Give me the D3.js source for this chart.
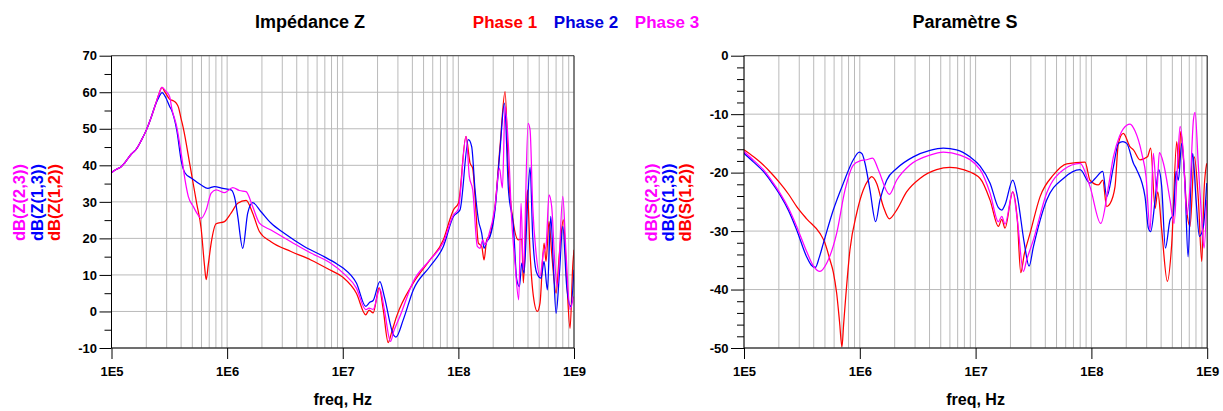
<!DOCTYPE html>
<html><head><meta charset="utf-8">
<script src="https://cdn.jsdelivr.net/npm/d3@7"></script>
<style>
body{margin:0;background:#fff}
text{font-family:"Liberation Sans",Arial,Helvetica,sans-serif;font-weight:bold}
</style>
</head><body>
<svg id="c" width="1223" height="411"></svg>
<script>
// ---------- DATA (frequency as log10(Hz), value in dB) ----------
const xTickValues = [1e5, 1e6, 1e7, 1e8, 1e9];
const xTickLabels = ["1E5", "1E6", "1E7", "1E8", "1E9"];
const zTicks = [-10, 0, 10, 20, 30, 40, 50, 60, 70];
const sTicks = [-50, -40, -30, -20, -10, 0];
const seriesNamesZ = ["dB(Z(2,3))", "dB(Z(1,3))", "dB(Z(1,2))"];
const seriesNamesS = ["dB(S(2,3))", "dB(S(1,3))", "dB(S(1,2))"];
const phaseNames = ["Phase 1", "Phase 2", "Phase 3"];

const zLow = [[5.0,38.0],[5.043,38.9],[5.086,39.7],[5.115,40.7],[5.172,43.1],[5.216,44.5],[5.259,46.9],[5.302,49.7],[5.345,53.3],[5.379,56.5]];

const z12 = [[5.408,59.3],[5.437,61.3],[5.46,60.2],[5.503,58.1],[5.532,57.7],[5.560,57.0],[5.58,55.8],[5.600,53.0],[5.621,50.2],[5.679,40.0],[5.737,29.5],[5.776,22.5],[5.803,13.0],[5.819,8.7],[5.837,12.8],[5.862,18.7],[5.905,24.0],[5.977,24.6],[6.034,26.9],[6.092,29.6],[6.164,30.4],[6.221,26.9],[6.279,21.9],[6.379,19.1],[6.552,16.4],[6.724,14.1],[6.887,11.4],[7.0,9.4],[7.118,5.0],[7.199,-0.9],[7.228,0.4],[7.263,-0.4],[7.315,6.5],[7.35,0.5],[7.393,-8.5],[7.42,-6.0],[7.465,-1.4],[7.610,7.8],[7.754,14.1],[7.870,19.6],[7.93,25.5],[7.957,27.8],[8.0,29.6],[8.066,47.9],[8.101,40.6],[8.124,39.2],[8.144,31.5],[8.173,18.7],[8.202,17.8],[8.222,14.1],[8.245,19.6],[8.274,21.0],[8.317,28.7],[8.360,45.1],[8.404,60.2],[8.433,37.8],[8.476,24.2],[8.519,19.6],[8.548,19.8],[8.562,7.8],[8.597,33.3],[8.620,16.0],[8.649,4.1],[8.683,0.0],[8.706,2.3],[8.741,18.7],[8.758,13.7],[8.784,24.6],[8.807,16.0],[8.845,5.0],[8.874,16.0],[8.908,25.1],[8.937,8.7],[8.966,-4.6],[8.989,12.3],[9.0,16.9]];

const z13 = [[5.408,58.5],[5.437,59.9],[5.47,58.5],[5.503,56.1],[5.521,55.0],[5.564,49.7],[5.607,40.6],[5.636,37.9],[5.690,36.5],[5.776,34.6],[5.833,33.7],[5.891,34.2],[5.963,33.7],[6.034,33.3],[6.07,30.5],[6.092,26.0],[6.135,17.3],[6.178,26.9],[6.221,29.8],[6.293,27.3],[6.379,24.2],[6.494,21.4],[6.667,17.8],[6.839,15.0],[6.95,13.0],[7.003,11.9],[7.118,7.8],[7.199,1.4],[7.234,2.5],[7.263,3.0],[7.321,8.2],[7.36,4.0],[7.44,-6.5],[7.46,-7.0],[7.523,-2.3],[7.610,5.9],[7.754,12.3],[7.870,17.8],[7.957,26.0],[8.014,27.8],[8.087,47.0],[8.115,45.1],[8.144,33.3],[8.173,25.1],[8.202,21.4],[8.222,17.3],[8.245,19.1],[8.274,20.5],[8.317,27.8],[8.360,44.2],[8.398,57.0],[8.433,33.3],[8.476,23.3],[8.505,8.7],[8.528,6.8],[8.548,13.2],[8.568,10.5],[8.597,28.7],[8.620,39.5],[8.643,20.5],[8.678,10.5],[8.715,9.1],[8.741,13.7],[8.770,5.9],[8.799,26.0],[8.822,12.3],[8.845,-0.5],[8.874,10.5],[8.903,23.3],[8.937,6.8],[8.972,1.4],[9.0,11.4]];

const z23 = [[5.408,59.3],[5.437,61.3],[5.47,60.3],[5.503,58.8],[5.521,55.6],[5.564,50.6],[5.607,42.4],[5.636,36.0],[5.664,31.5],[5.708,28.7],[5.737,27.0],[5.776,25.5],[5.819,27.8],[5.862,32.4],[5.905,33.3],[5.977,32.5],[6.049,33.9],[6.106,33.1],[6.164,32.8],[6.221,28.7],[6.279,24.2],[6.379,22.3],[6.552,19.1],[6.724,16.0],[6.887,13.4],[7.011,10.3],[7.118,6.4],[7.199,0.5],[7.228,0.9],[7.263,0.6],[7.321,6.2],[7.36,0.5],[7.413,-8.2],[7.44,-5.5],[7.494,-1.4],[7.610,8.2],[7.754,14.1],[7.870,18.9],[7.957,26.4],[8.0,28.1],[8.066,47.9],[8.095,36.9],[8.124,33.3],[8.164,17.8],[8.187,17.3],[8.210,19.6],[8.231,18.2],[8.260,20.5],[8.317,28.7],[8.355,39.2],[8.381,33.8],[8.404,56.1],[8.433,45.1],[8.461,25.1],[8.490,13.2],[8.522,3.2],[8.542,29.6],[8.562,11.4],[8.603,51.5],[8.620,49.7],[8.643,28.7],[8.672,16.0],[8.706,9.6],[8.735,16.0],[8.758,17.8],[8.784,31.9],[8.807,28.7],[8.836,12.3],[8.856,6.8],[8.903,31.5],[8.931,16.0],[8.966,0.5],[8.995,4.1]];

const s12 = [[5.0,-16.1],[5.083,-17.3],[5.167,-18.7],[5.24,-20.2],[5.311,-21.8],[5.385,-23.7],[5.455,-25.8],[5.541,-27.9],[5.656,-30.4],[5.694,-31.8],[5.742,-34.9],[5.771,-37.0],[5.8,-40.6],[5.825,-45.5],[5.846,-49.8],[5.86,-46.0],[5.872,-42.9],[5.915,-33.2],[5.973,-26.95],[6.030,-22.97],[6.073,-21.3],[6.102,-20.7],[6.145,-21.8],[6.203,-25.8],[6.255,-27.9],[6.318,-26.4],[6.404,-23.3],[6.519,-21.0],[6.663,-19.5],[6.778,-19.1],[6.894,-19.5],[7.039,-21.0],[7.125,-24.7],[7.197,-29.2],[7.226,-28.0],[7.254,-29.5],[7.321,-23.3],[7.36,-28.0],[7.390,-37.1],[7.42,-34.0],[7.470,-30.4],[7.557,-24.1],[7.672,-20.4],[7.787,-18.5],[7.945,-18.2],[7.988,-21.3],[8.060,-22.1],[8.098,-21.3],[8.132,-25.8],[8.161,-25.3],[8.204,-22.4],[8.233,-15.0],[8.276,-13.3],[8.334,-15.6],[8.363,-16.1],[8.420,-17.8],[8.484,-17.3],[8.512,-15.8],[8.550,-26.1],[8.573,-23.3],[8.607,-29.8],[8.656,-38.6],[8.694,-32.1],[8.737,-14.7],[8.754,-19.3],[8.771,-13.0],[8.800,-19.0],[8.823,-26.4],[8.852,-29.2],[8.889,-17.3],[8.924,-24.7],[8.953,-35.2],[8.973,-23.0],[8.996,-18.4]];

const s13 = [[5.0,-16.7],[5.083,-18.2],[5.167,-19.8],[5.24,-21.7],[5.311,-23.8],[5.385,-26.5],[5.455,-29.8],[5.541,-34.4],[5.58,-35.8],[5.616,-36.2],[5.65,-34.5],[5.685,-32.1],[5.771,-26.4],[5.858,-21.8],[5.944,-17.8],[5.996,-16.5],[6.02,-16.8],[6.045,-18.4],[6.088,-23.0],[6.137,-28.4],[6.174,-24.7],[6.232,-21.3],[6.318,-19.3],[6.462,-17.3],[6.606,-16.2],[6.721,-15.8],[6.836,-16.1],[6.951,-17.3],[7.039,-18.9],[7.125,-21.8],[7.197,-26.0],[7.226,-26.4],[7.254,-25.5],[7.321,-21.3],[7.36,-24.0],[7.42,-32.0],[7.462,-36.0],[7.499,-32.7],[7.614,-24.7],[7.758,-21.0],[7.902,-19.5],[7.988,-21.8],[8.032,-21.0],[8.098,-19.8],[8.132,-24.1],[8.190,-19.0],[8.233,-15.0],[8.271,-14.7],[8.305,-15.0],[8.363,-18.4],[8.391,-19.5],[8.463,-24.1],[8.492,-29.5],[8.512,-30.1],[8.550,-24.7],[8.581,-19.5],[8.607,-22.4],[8.639,-32.9],[8.679,-28.1],[8.708,-27.2],[8.731,-19.8],[8.751,-21.3],[8.780,-15.0],[8.809,-22.4],[8.835,-34.4],[8.861,-20.7],[8.875,-16.7],[8.904,-24.7],[8.933,-30.9],[8.967,-29.2],[8.996,-21.8]];

const s23 = [[5.0,-16.4],[5.083,-17.9],[5.167,-19.5],[5.24,-21.4],[5.311,-23.5],[5.385,-26.1],[5.455,-29.2],[5.541,-33.5],[5.60,-36.0],[5.656,-36.9],[5.714,-35.5],[5.8,-30.4],[5.872,-23.0],[5.944,-18.7],[6.001,-18.0],[6.059,-17.8],[6.111,-17.5],[6.160,-19.5],[6.255,-23.7],[6.318,-21.3],[6.433,-18.7],[6.606,-17.0],[6.721,-16.5],[6.865,-17.0],[7.039,-19.5],[7.125,-23.5],[7.197,-28.4],[7.226,-27.5],[7.254,-28.8],[7.321,-23.3],[7.36,-28.0],[7.413,-36.9],[7.44,-35.0],[7.499,-31.5],[7.614,-23.5],[7.758,-19.5],[7.902,-18.4],[7.988,-22.4],[8.081,-28.7],[8.147,-22.4],[8.190,-17.3],[8.242,-13.8],[8.305,-11.9],[8.334,-11.7],[8.377,-12.9],[8.435,-16.7],[8.472,-20.7],[8.507,-29.8],[8.535,-16.7],[8.564,-23.5],[8.587,-16.6],[8.622,-18.4],[8.679,-24.7],[8.714,-28.7],[8.743,-19.0],[8.766,-12.1],[8.794,-16.7],[8.823,-27.2],[8.852,-22.4],[8.881,-11.0],[8.895,-9.7],[8.924,-19.0],[8.953,-28.1],[8.973,-32.9],[8.996,-24.7]];

// ---------- DRAWING ----------
const RED = "#ff0000", BLUE = "#0000ff", MAG = "#ff00ff";
const svg = d3.select("#c");
const TOP = 55.7, BOT = 348;

function panel(o) {
  const x = d3.scaleLog().domain([1e5, 1e9]).range([o.left, o.right]);
  const y = d3.scaleLinear().domain(o.yDomain).range([BOT, TOP]);
  const g = svg.append("g");
  const clipId = "clip" + o.id;
  svg.append("clipPath").attr("id", clipId).append("rect")
    .attr("x", o.left).attr("y", TOP - 2).attr("width", o.right - o.left).attr("height", BOT - TOP + 4);

  // grid
  const vgrid = [];
  for (let d = 5; d < 9; d++) for (let k = 1; k <= 9; k++) vgrid.push(k * Math.pow(10, d));
  vgrid.push(1e9);
  g.selectAll(".vg").data(vgrid).join("line")
    .attr("x1", d => x(d)).attr("x2", d => x(d)).attr("y1", TOP).attr("y2", BOT)
    .attr("stroke", "#bababa").attr("stroke-width", 1);
  g.selectAll(".hg").data(o.yTicks).join("line")
    .attr("x1", o.left).attr("x2", o.right).attr("y1", d => y(d)).attr("y2", d => y(d))
    .attr("stroke", "#bababa").attr("stroke-width", 1);

  // curves
  const line = d3.line().x(d => x(Math.pow(10, d[0]))).y(d => y(d[1])).curve(d3.curveMonotoneX);
  const cg = g.append("g").attr("clip-path", `url(#${clipId})`);
  o.series.forEach(s => {
    cg.append("path").datum(s.data).attr("d", line)
      .attr("fill", "none").attr("stroke", s.color).attr("stroke-width", 1.25)
      .attr("stroke-linejoin", "round");
  });

  // frame
  g.append("line").attr("x1", o.left).attr("x2", o.right).attr("y1", TOP).attr("y2", TOP).attr("stroke", "#444");
  g.append("line").attr("x1", o.right).attr("x2", o.right).attr("y1", TOP).attr("y2", BOT).attr("stroke", "#222");

  // y axis
  const ya = g.append("g").attr("transform", `translate(${o.left},0)`)
    .call(d3.axisLeft(y).tickValues(o.yTicks).tickSize(o.majorTick).tickPadding(2.5).tickFormat(d => String(d)));
  ya.select(".domain").remove();
  ya.selectAll("text").attr("font-size", 13).attr("font-family", '"Liberation Sans",Arial,sans-serif').attr("font-weight", "bold").attr("fill", "#000");
  ya.selectAll("line").attr("stroke", "#000");
  const minor = d3.range(o.yDomain[0], o.yDomain[1] + 0.001, o.minorStep).filter(v => o.yTicks.indexOf(v) < 0);
  const ym = g.append("g").attr("transform", `translate(${o.left},0)`)
    .call(d3.axisLeft(y).tickValues(minor).tickSize(7).tickFormat(""));
  ym.select(".domain").remove();
  ym.selectAll("line").attr("stroke", "#000");
  g.append("line").attr("x1", o.left).attr("x2", o.left).attr("y1", TOP).attr("y2", BOT).attr("stroke", "#000");

  // x axis
  const xa = g.append("g").attr("transform", `translate(0,${BOT})`)
    .call(d3.axisBottom(x).tickValues(xTickValues).tickSize(11).tickPadding(8).tickFormat((d, i) => xTickLabels[i]));
  xa.select(".domain").remove();
  xa.selectAll("text").attr("font-size", 13).attr("font-family", '"Liberation Sans",Arial,sans-serif').attr("font-weight", "bold").attr("fill", "#000");
  xa.selectAll("line").attr("stroke", "#000");
  g.append("line").attr("x1", o.left).attr("x2", o.right).attr("y1", BOT).attr("y2", BOT).attr("stroke", "#000");

  // x label
  g.append("text").attr("x", (o.left + o.right) / 2).attr("y", 405).attr("text-anchor", "middle")
    .attr("font-size", 16).text("freq, Hz");

  // rotated y labels
  o.ylabels.forEach((lab, i) => {
    g.append("text").attr("transform", `translate(${o.ylabelX[i]},202.5) rotate(-90)`)
      .attr("text-anchor", "middle").attr("dy", "0.36em").attr("font-size", 16.5)
      .attr("fill", [MAG, BLUE, RED][i]).text(lab);
  });

  // title
  g.append("text").attr("x", o.titleX).attr("y", 27.5).attr("text-anchor", "middle")
    .attr("font-size", 18).text(o.title);
}

panel({
  id: "Z", left: 111.5, right: 574, yDomain: [-10, 70], yTicks: zTicks, minorStep: 5, majorTick: 12,
  series: [
    { data: zLow.concat(z12), color: RED },
    { data: zLow.concat(z13), color: BLUE },
    { data: zLow.concat(z23), color: MAG }
  ],
  ylabels: seriesNamesZ, ylabelX: [19, 36.8, 54], title: "Impédance Z", titleX: 310
});

panel({
  id: "S", left: 744, right: 1207.2, yDomain: [-50, 0], yTicks: sTicks, minorStep: 2, majorTick: 13,
  series: [
    { data: s12, color: RED },
    { data: s13, color: BLUE },
    { data: s23, color: MAG }
  ],
  ylabels: seriesNamesS, ylabelX: [651, 668.3, 685.5], title: "Paramètre S", titleX: 965
});

// legend in the header
const legendX = [505, 586, 667];
const legendCol = ["#ff0000", "#0000dd", "#ff00ff"];
phaseNames.forEach((p, i) => {
  svg.append("text").attr("x", legendX[i]).attr("y", 27.5).attr("text-anchor", "middle")
    .attr("font-size", 17).attr("fill", legendCol[i]).text(p);
});
</script>
</body></html>
